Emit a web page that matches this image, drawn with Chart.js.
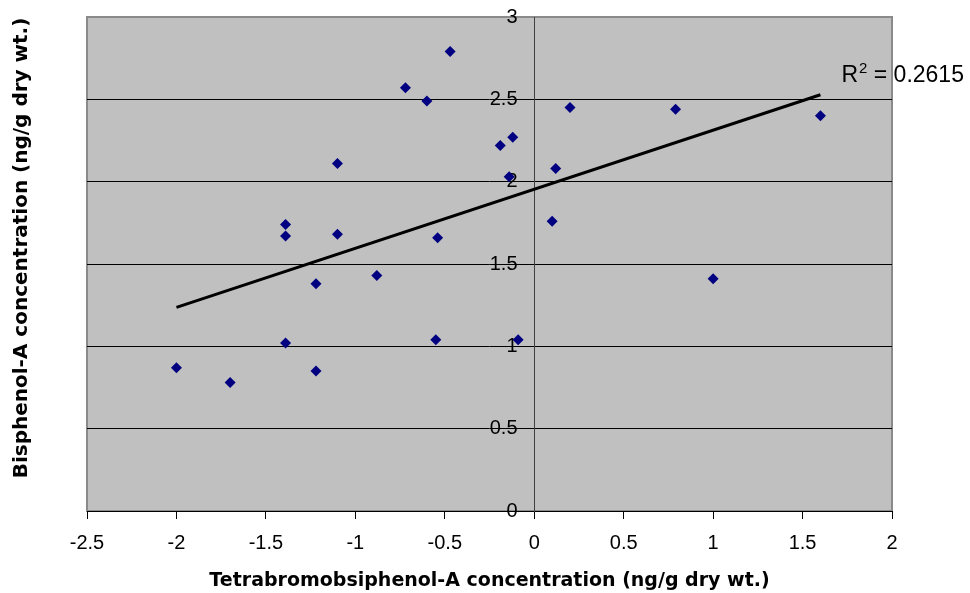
<!DOCTYPE html>
<html>
<head>
<meta charset="utf-8">
<script src="https://cdn.jsdelivr.net/npm/chart.js@4"></script>
<style>
  html, body { margin: 0; padding: 0; background: #ffffff; }
  #wrap { width: 970px; height: 593px; }
</style>
</head>
<body>
<div id="wrap"><canvas id="c" width="970" height="593"></canvas></div>
<script>
// ---- data ----
const tbbpaValues = [-0.47, -0.72, -0.60, -0.12, -0.19, -0.14, -1.10, -1.39, -1.39, -1.10, -0.54, -0.88,
                      0.20, 0.79, 1.60, 0.12, 0.10, 1.00, -1.22, -0.55, -0.09, -1.39, -2.00, -1.70, -1.22];
const bpaValues   = [2.79, 2.57, 2.49, 2.27, 2.22, 2.03, 2.11, 1.74, 1.67, 1.68, 1.66, 1.43,
                     2.45, 2.44, 2.40, 2.08, 1.76, 1.41, 1.38, 1.04, 1.04, 1.02, 0.87, 0.78, 0.85];
const xRange = [-2.5, 2];
const yRange = [0, 3];
const tickStep = 0.5;
const rSquaredLabel = '0.2615';
const xTitle = 'Tetrabromobsiphenol-A concentration (ng/g dry wt.)';
const yTitle = 'Bisphenol-A concentration (ng/g dry wt.)';

// ---- linear trendline (least squares from the data) ----
const n = tbbpaValues.length;
const mx = tbbpaValues.reduce((a, b) => a + b, 0) / n;
const my = bpaValues.reduce((a, b) => a + b, 0) / n;
let sxy = 0, sxx = 0;
for (let i = 0; i < n; i++) {
  sxy += (tbbpaValues[i] - mx) * (bpaValues[i] - my);
  sxx += (tbbpaValues[i] - mx) * (tbbpaValues[i] - mx);
}
const slope = sxy / sxx;
const intercept = my - slope * mx;
const xMin = Math.min(...tbbpaValues), xMax = Math.max(...tbbpaValues);
const trendPoints = [xMin, xMax].map(x => ({ x: x, y: intercept + slope * x }));

const scatterPoints = tbbpaValues.map((x, i) => ({ x: x, y: bpaValues[i] }));

const FONT = "'Liberation Sans', Arial, Helvetica, sans-serif";
const TITLE_FONT = "'DejaVu Sans', 'Liberation Sans', Arial, sans-serif";
const fmt = (v) => String(Math.round(v * 10) / 10 + 0);

const plotBg = {
  id: 'plotBg',
  beforeDraw(chart) {
    const { ctx, chartArea: a } = chart;
    ctx.save();
    ctx.fillStyle = '#c0c0c0';
    ctx.fillRect(a.left, a.top, a.right - a.left, a.bottom - a.top);
    ctx.strokeStyle = '#8a8a8a';
    ctx.lineWidth = 2;
    ctx.strokeRect(a.left, a.top, a.right - a.left, a.bottom - a.top);
    ctx.restore();
  },
  afterLayout(chart) {
    const s = chart.scales.y2;
    s.bottom -= 32;
  }
};

const r2Label = {
  id: 'r2Label',
  afterDatasetsDraw(chart) {
    const { ctx, scales } = chart;
    const end = trendPoints[trendPoints.length - 1];
    const px = scales.x.getPixelForValue(end.x) + 21;
    const py = scales.y.getPixelForValue(end.y) - 13;
    ctx.save();
    ctx.fillStyle = '#000';
    ctx.textBaseline = 'alphabetic';
    ctx.textAlign = 'left';
    ctx.font = '23px ' + FONT;
    ctx.fillText('R', px, py);
    let w = ctx.measureText('R').width;
    ctx.font = '15px ' + FONT;
    ctx.fillText('2', px + w + 1, py - 9);
    w += ctx.measureText('2').width + 1;
    ctx.font = '23px ' + FONT;
    ctx.fillText(' = ' + rSquaredLabel, px + w, py);
    ctx.restore();
  }
};

new Chart(document.getElementById('c'), {
  type: 'scatter',
  data: {
    datasets: [
      {
        label: 'BPA vs TBBPA',
        data: scatterPoints,
        pointStyle: 'rectRot',
        pointRadius: 5.5,
        pointHoverRadius: 5.5,
        backgroundColor: '#000080',
        borderColor: '#000080',
        borderWidth: 0,
        order: 1
      },
      {
        type: 'line',
        label: 'Linear trend',
        data: trendPoints,
        borderColor: '#000000',
        borderWidth: 3,
        pointRadius: 0,
        fill: false,
        showLine: true,
        order: 0
      }
    ]
  },
  options: {
    responsive: false,
    devicePixelRatio: 1,
    animation: false,
    events: [],
    layout: { padding: { left: 0, right: 78, top: 17, bottom: 0 } },
    plugins: {
      legend: { display: false },
      tooltip: { enabled: false }
    },
    scales: {
      x: {
        type: 'linear',
        position: 'bottom',
        min: xRange[0],
        max: xRange[1],
        ticks: {
          stepSize: tickStep,
          color: '#000',
          font: { family: FONT, size: 20 },
          padding: 12,
          maxRotation: 0,
          autoSkip: false,
          callback: (v) => fmt(v)
        },
        grid: {
          drawOnChartArea: false,
          drawTicks: true,
          tickLength: 8,
          color: '#000'
        },
        border: { display: true, color: '#000', width: 1 },
        title: {
          display: true,
          text: xTitle,
          color: '#000',
          font: { family: TITLE_FONT, size: 19, weight: 'bold' },
          padding: { top: 0, bottom: 1 }
        },
        afterFit(s) { s.height = 82; }
      },
      y: {
        type: 'linear',
        position: { x: 0 },
        min: yRange[0],
        max: yRange[1],
        ticks: {
          stepSize: tickStep,
          color: '#000',
          font: { family: FONT, size: 20 },
          callback: (v) => fmt(v) + '   '
        },
        grid: {
          drawTicks: true,
          tickLength: 6,
          color: (c) => (c.tick && c.tick.value === yRange[1]) ? '#8a8a8a' : '#000',
          lineWidth: 1
        },
        border: { display: true, color: '#404040', width: 1 }
      },
      y2: {
        type: 'linear',
        position: 'left',
        min: yRange[0],
        max: yRange[1],
        ticks: { display: false },
        grid: { display: false, drawTicks: false },
        border: { display: false },
        title: {
          display: true,
          text: yTitle,
          color: '#000',
          font: { family: TITLE_FONT, size: 20, weight: 'bold' },
          padding: { top: 10, bottom: 0 }
        },
        afterFit(s) { s.width = 87; }
      }
    }
  },
  plugins: [plotBg, r2Label]
});
</script>
</body>
</html>
